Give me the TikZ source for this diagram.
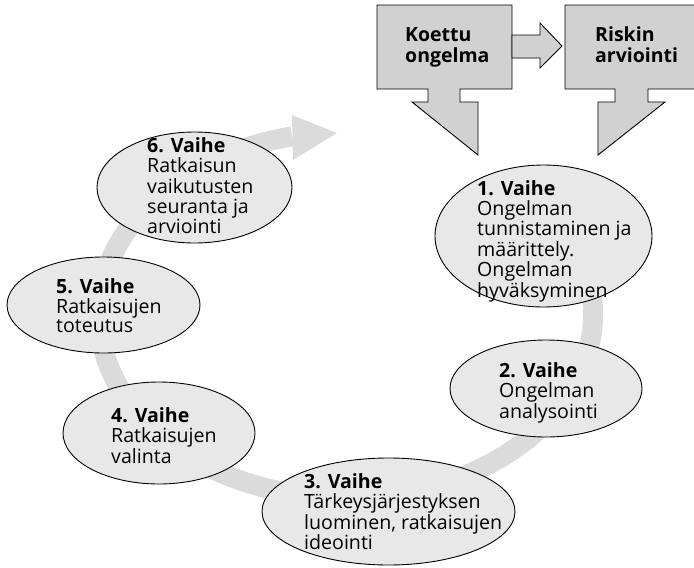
\documentclass[tikz,border=0pt]{standalone}
\usepackage{fontspec}
\setmainfont{Open Sans}
\usetikzlibrary{shapes.geometric,calc}
\tikzset{
  phase/.style={ellipse, draw=black, line width=0.9pt, fill=black!9, inner sep=0pt},
  phasetext/.style={anchor=base west, inner sep=0pt, font=\fontsize{19.6}{18.8}\selectfont},
  boxtext/.style={anchor=base west, inner sep=0pt, font=\fontsize{19.5}{21.5}\selectfont\bfseries},
  shapebox/.style={draw=black, line width=0.9pt, fill=black!18},
  ring/.style={draw=black!14, line width=20pt},
  ringhead/.style={fill=black!14}
}
\newcommand{\lines}[1]{\begin{tabular}[t]{@{}l@{}}#1\end{tabular}}
\begin{document}
\begin{tikzpicture}[x=1pt,y=-1pt]
\clip (0,0) rectangle (694,568);
\useasboundingbox (0,0) rectangle (694,568);
% circular gray arrow
\coordinate (rc) at (346,315);
\draw[ring] ($(rc)+(-30:247 and 183)$) arc[start angle=-30, end angle=257.4, x radius=247, y radius=183];
\coordinate (hw1) at (292,115);
\coordinate (htip) at (337,133);
\coordinate (hw2) at (293,160);
\fill[ringhead] (hw1) -- (htip) -- (hw2) -- cycle;
% phase ellipses
\node[phase, minimum width=217pt, minimum height=142pt] (e1) at (543.5,236) {};
\node[phase, minimum width=192pt, minimum height=97pt] (e2) at (546,388.5) {};
\node[phase, minimum width=253pt, minimum height=107pt] (e3) at (388.5,511.5) {};
\node[phase, minimum width=192pt, minimum height=102pt] (e4) at (159,433) {};
\node[phase, minimum width=193pt, minimum height=96pt] (e5) at (103.5,305) {};
\node[phase, minimum width=195pt, minimum height=111pt] (e6) at (194.5,187.5) {};
% texts
\node[phasetext] (t1) at (477,195) {\lines{\textbf{1. Vaihe}\\Ongelman\\tunnistaminen ja\\määrittely.\\Ongelman\\hyväksyminen}};
\node[phasetext] (t2) at (499,377) {\lines{\textbf{2. Vaihe}\\Ongelman\\analysointi}};
\node[phasetext] (t3) at (304,488) {\lines{\textbf{3. Vaihe}\\Tärkeysjärjestyksen\\luominen, ratkaisujen\\ideointi}};
\node[phasetext] (t4) at (111,422) {\lines{\textbf{4. Vaihe}\\Ratkaisujen\\valinta}};
\node[phasetext] (t5) at (56,293) {\lines{\textbf{5. Vaihe}\\Ratkaisujen\\toteutus}};
\node[phasetext] (t6) at (147,152) {\lines{\textbf{6. Vaihe}\\Ratkaisun\\vaikutusten\\seuranta ja\\arviointi}};
% top boxes with arrows
\draw[shapebox] (377,5) -- (512,5) -- (512,89) -- (460,89) -- (460,102) -- (478,102) -- (478,155)
  -- (412,102) -- (428,102) -- (428,89) -- (377,89) -- cycle;
\draw[shapebox] (565,5) -- (705,5) -- (705,89) -- (648,89) -- (648,102) -- (665,102) -- (598,155)
  -- (598,102) -- (615,102) -- (615,89) -- (565,89) -- cycle;
\draw[shapebox] (512,35) -- (540,35) -- (540,23) -- (562,46) -- (540,68) -- (540,58) -- (512,58) -- cycle;
\node[boxtext] (b1) at (405,41) {\lines{Koettu\\ongelma}};
\node[boxtext] (b2) at (595,41) {\lines{Riskin\\arviointi}};
\end{tikzpicture}
\end{document}
